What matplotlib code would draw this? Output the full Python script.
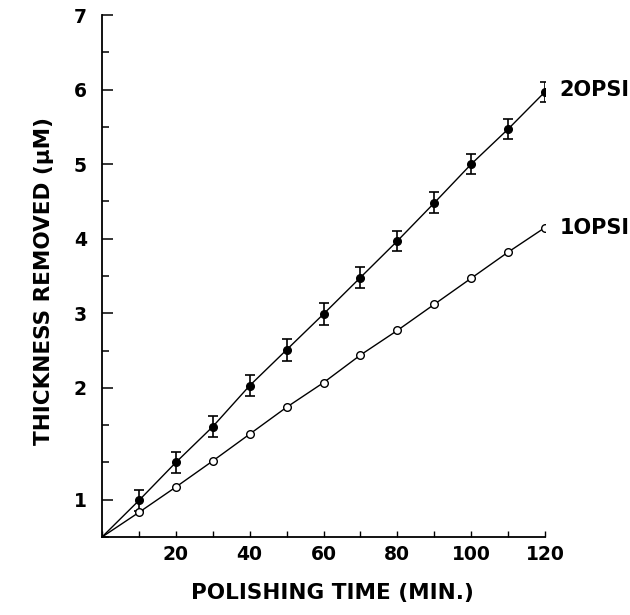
import matplotlib
matplotlib.use("Agg")
import matplotlib.pyplot as plt
from matplotlib.ticker import FixedLocator, MultipleLocator

plt.rcParams['font.family'] = ['DejaVu Sans']

time_min = [10, 20, 30, 40, 50, 60, 70, 80, 90, 100, 110, 120]
psi20 = [0.49, 1.00, 1.48, 2.03, 2.51, 2.99, 3.48, 3.97, 4.48, 5.00, 5.47, 5.97]
psi20_err = [0.14, 0.14, 0.14, 0.14, 0.15, 0.145, 0.145, 0.14, 0.14, 0.13, 0.13, 0.13]
psi10 = [0.33, 0.67, 1.02, 1.38, 1.74, 2.07, 2.44, 2.77, 3.12, 3.47, 3.82, 4.15]

x_ticks = [20, 40, 60, 80, 100, 120]
x_ticklabels = ["20", "40", "60", "80", "100", "120"]
y_ticks = [0.5, 2, 3, 4, 5, 6, 7]
y_ticklabels = ["1", "2", "3", "4", "5", "6", "7"]
series_labels = ["2OPSI", "1OPSI"]

fig = plt.figure(figsize=(6.30, 6.15), dpi=100)
ax = fig.add_axes([0.1619, 0.1268, 0.7032, 0.8488])

# lines start at origin
ax.plot([0] + time_min, [0] + psi20, color='black', lw=1.0, zorder=2)
ax.plot([0] + time_min, [0] + psi10, color='black', lw=1.0, zorder=2)
ax.errorbar(time_min, psi20, yerr=psi20_err, fmt='o', color='black',
            ms=5.5, capsize=3.5, elinewidth=1.2, capthick=1.2, zorder=3)
ax.plot(time_min, psi10, 'o', mfc='white', mec='black', mew=1.0, ms=5.5, zorder=3)

ax.text(time_min[-1] + 4, psi20[-1] + 0.03, series_labels[0], fontsize=15,
        fontweight='bold', va='center', ha='left')
ax.text(time_min[-1] + 4, psi10[-1], series_labels[1], fontsize=15,
        fontweight='bold', va='center', ha='left')

ax.set_xlim(0, 120)
ax.set_ylim(0, 7)
for s in ['top', 'right']:
    ax.spines[s].set_visible(False)
for s in ['left', 'bottom']:
    ax.spines[s].set_linewidth(1.3)

ax.xaxis.set_major_locator(FixedLocator(x_ticks))
ax.set_xticklabels(x_ticklabels)
ax.xaxis.set_minor_locator(MultipleLocator(10))
ax.yaxis.set_major_locator(FixedLocator(y_ticks))
ax.set_yticklabels(y_ticklabels)
ax.yaxis.set_minor_locator(MultipleLocator(0.5))

ax.tick_params(axis='x', which='both', direction='in', length=4, width=1.0,
               labelsize=13.5, pad=6)
ax.tick_params(axis='y', which='major', direction='in', length=8, width=1.1,
               labelsize=13.5, pad=11)
ax.tick_params(axis='y', which='minor', direction='in', length=5, width=1.1)
for lab in ax.get_xticklabels() + ax.get_yticklabels():
    lab.set_fontweight('bold')

ax.set_xlabel("POLISHING TIME (MIN.)", fontsize=15.5, fontweight='bold')
ax.set_ylabel("THICKNESS REMOVED (μM)", fontsize=15.5, fontweight='bold')
ax.xaxis.set_label_coords(0.52, -0.088)
ax.yaxis.set_label_coords(-0.108, 0.49)

fig.savefig("out.png", dpi=100)
